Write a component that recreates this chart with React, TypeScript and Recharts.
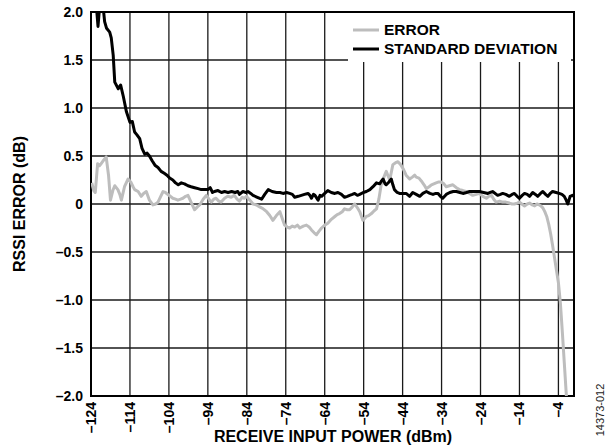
import React from "react";
import { LineChart, Line, XAxis, YAxis, CartesianGrid, ReferenceArea, Legend } from "recharts";

const xTicks = [-124, -114, -104, -94, -84, -74, -64, -54, -44, -34, -24, -14, -4];
const yTicks = [-2, -1.5, -1, -0.5, 0, 0.5, 1, 1.5, 2];

const errX = [
  -123.8, -123.3, -122.9, -122.3, -121.8, -121.4, -120.7, -120.1, -119.5, -119.0,
  -118.4, -117.9, -117.1, -116.6, -116.2, -115.4, -114.5, -113.8, -113.2, -112.8,
  -111.9, -111.1, -110.5, -109.8, -109.0, -108.1, -107.4, -106.8, -106.1, -105.5,
  -104.9, -104.3, -103.6, -103.0, -102.3, -101.7, -101.0, -100.4, -99.7, -99.1,
  -98.2, -97.4, -96.7, -96.1, -95.2, -94.4, -93.7, -93.1, -92.5, -91.9,
  -91.2, -90.6, -89.7, -88.9, -88.0, -87.2, -86.5, -85.9, -85.2, -84.6,
  -84.1, -83.2, -82.4, -81.5, -80.7, -79.8, -78.9, -78.1, -77.3, -76.4,
  -75.5, -74.9, -74.3, -73.6, -73.0, -72.3, -71.7, -71.0, -70.4, -69.5,
  -68.7, -68.0, -67.4, -66.7, -66.1, -65.4, -64.8, -64.0, -63.2, -62.3,
  -61.4, -60.8, -60.2, -59.5, -58.9, -58.2, -57.6, -56.9, -56.3, -55.6,
  -55.0, -54.2, -53.3, -52.7, -52.0, -51.3, -50.7, -50.1, -49.5, -48.8,
  -48.2, -47.8, -47.3, -46.9, -46.5, -45.8, -45.2, -44.5, -43.9, -43.1,
  -42.2, -41.5, -40.9, -40.5, -39.8, -39.2, -38.5, -37.9, -37.2, -36.6,
  -36.0, -35.4, -34.7, -34.1, -33.4, -32.8, -32.0, -31.1, -30.2, -29.4,
  -28.5, -27.7, -26.8, -26.0, -25.1, -24.3, -23.4, -22.5, -21.9, -21.2,
  -20.6, -20.0, -19.1, -18.3, -17.5, -16.6, -15.9, -15.3, -14.6, -14.0,
  -13.4, -12.7, -12.0, -11.4, -10.7, -10.1, -9.5, -8.9, -8.5, -8.0,
  -7.5, -7.0, -6.5, -6.0, -5.5, -5.0, -4.5, -4.0, -3.5, -3.0,
  -2.5, -2.0, -1.8,
];
const errY = [
  0.22, 0.14, 0.12, 0.42, 0.40, 0.42, 0.46, 0.49, 0.30, 0.04,
  0.14, 0.19, 0.15, 0.10, 0.04, 0.18, 0.26, 0.23, 0.18, 0.15,
  0.13, 0.08, 0.11, 0.13, 0.04, -0.01, 0.0, 0.02, 0.08, 0.13,
  0.12, 0.10, 0.08, 0.06, 0.05, 0.04, 0.05, 0.06, 0.08, 0.09,
  0.01, -0.06, -0.03, -0.01, 0.05, 0.09, 0.05, 0.02, 0.05, 0.06,
  0.03, 0.02, 0.06, 0.08, 0.07, 0.09, 0.05, 0.03, 0.07, 0.06,
  0.08, 0.04, 0.0, -0.01, -0.03, -0.05, -0.08, -0.12, -0.17, -0.12,
  -0.08, -0.15, -0.22, -0.24, -0.25, -0.23, -0.24, -0.22, -0.25, -0.23,
  -0.22, -0.24, -0.27, -0.30, -0.32, -0.28, -0.25, -0.22, -0.20, -0.16,
  -0.13, -0.11, -0.10, -0.08, -0.05, -0.06, -0.06, -0.03, 0.0, -0.04,
  -0.08, -0.17, -0.13, -0.12, -0.10, -0.07, -0.05, 0.05, 0.20, 0.28,
  0.34, 0.30, 0.25, 0.33, 0.41, 0.43, 0.44, 0.41, 0.37, 0.30,
  0.26, 0.28, 0.30, 0.28, 0.27, 0.24, 0.20, 0.16, 0.18, 0.20,
  0.21, 0.22, 0.23, 0.23, 0.21, 0.18, 0.19, 0.20, 0.17, 0.15,
  0.14, 0.13, 0.11, 0.09, 0.10, 0.11, 0.08, 0.06, 0.08, 0.09,
  0.05, 0.02, 0.03, 0.02, 0.02, 0.01, 0.0, 0.0, 0.01, 0.02,
  0.0, -0.02, 0.0, 0.01, -0.01, -0.02, 0.0, -0.01, -0.02, -0.04,
  -0.08, -0.13, -0.21, -0.31, -0.43, -0.56, -0.69, -0.82, -1.03, -1.33,
  -1.65, -1.97, -2.1,
];

const sdX = [
  -122.6, -122.2, -121.7, -121.0, -120.5, -120.0, -119.2, -118.8, -118.3, -117.9,
  -117.0, -116.4, -115.7, -114.9, -114.0, -113.4, -112.8, -112.2, -111.5, -110.9,
  -110.2, -109.6, -109.0, -108.3, -107.5, -106.8, -106.0, -105.2, -104.5, -103.8,
  -103.0, -102.3, -101.6, -100.8, -100.0, -99.1, -98.3, -97.4, -96.5, -95.7,
  -94.8, -94.0, -93.4, -92.8, -92.3, -91.4, -90.5, -89.7, -88.8, -87.9,
  -87.0, -86.3, -85.9, -85.0, -84.2, -83.7, -83.0, -82.4, -81.3, -80.2,
  -79.4, -78.5, -77.5, -76.4, -75.5, -74.7, -73.8, -73.0, -72.3, -71.7,
  -70.8, -70.0, -69.2, -68.3, -67.8, -67.4, -66.9, -66.5, -65.7, -65.2,
  -64.8, -64.0, -63.2, -62.3, -61.4, -60.6, -59.7, -58.9, -58.2, -57.6,
  -56.9, -56.3, -55.6, -55.0, -54.1, -53.3, -52.4, -51.6, -50.7, -49.9,
  -49.4, -49.0, -48.5, -48.2, -47.5, -46.9, -46.5, -46.1, -45.4, -44.8,
  -44.0, -43.1, -42.2, -41.4, -40.5, -39.6, -38.8, -37.9, -37.0, -36.2,
  -35.5, -34.9, -34.3, -33.7, -32.8, -31.9, -31.0, -30.2, -29.3, -28.5,
  -27.6, -26.8, -25.5, -24.3, -23.2, -22.1, -21.5, -20.9, -19.6, -18.9,
  -18.3, -17.5, -16.6, -15.9, -15.3, -14.6, -14.0, -13.3, -12.7, -12.0,
  -11.4, -10.6, -9.9, -9.3, -8.6, -8.0, -7.3, -6.7, -6.1, -5.5,
  -4.6, -3.8, -3.1, -2.5, -2.0, -1.6, -1.0, -0.4, 0,
];
const sdY = [
  2.05, 1.85, 2.1, 2.1, 1.90, 1.83, 1.79, 1.73, 1.55, 1.27,
  1.20, 1.24, 1.12, 0.96, 0.85, 0.86, 0.75, 0.72, 0.68, 0.58,
  0.52, 0.53, 0.50, 0.45, 0.40, 0.38, 0.34, 0.32, 0.30, 0.27,
  0.25, 0.22, 0.20, 0.22, 0.21, 0.19, 0.18, 0.17, 0.16, 0.15,
  0.15, 0.15, 0.17, 0.12, 0.13, 0.14, 0.12, 0.13, 0.12, 0.13,
  0.12, 0.13, 0.10, 0.13, 0.12, 0.13, 0.11, 0.09, 0.07, 0.05,
  0.10, 0.15, 0.13, 0.12, 0.12, 0.11, 0.12, 0.11, 0.10, 0.07,
  0.08, 0.09, 0.10, 0.11, 0.09, 0.06, 0.10, 0.09, 0.04, 0.09,
  0.08, 0.11, 0.14, 0.12, 0.11, 0.12, 0.10, 0.07, 0.08, 0.09,
  0.10, 0.11, 0.09, 0.10, 0.12, 0.13, 0.15, 0.18, 0.22, 0.21,
  0.24, 0.26, 0.21, 0.20, 0.23, 0.26, 0.20, 0.15, 0.12, 0.11,
  0.11, 0.11, 0.08, 0.12, 0.10, 0.08, 0.11, 0.13, 0.11, 0.10,
  0.11, 0.11, 0.08, 0.06, 0.10, 0.12, 0.13, 0.13, 0.12, 0.11,
  0.12, 0.13, 0.13, 0.13, 0.12, 0.11, 0.12, 0.13, 0.09, 0.10,
  0.11, 0.10, 0.08, 0.10, 0.11, 0.08, 0.06, 0.09, 0.11, 0.10,
  0.08, 0.12, 0.10, 0.08, 0.11, 0.13, 0.10, 0.08, 0.11, 0.13,
  0.12, 0.11, 0.10, 0.08, 0.04, 0.0, 0.08, 0.09, 0.08,
];

const errData = errX.map((x, i) => ({ x, v: errY[i] }));
const sdData = sdX.map((x, i) => ({ x, v: sdY[i] }));

const FONT = '"Liberation Sans", Arial, Helvetica, sans-serif';
const GRAY = "#bdbdbd";

const fmtX = (v: number) => (v < 0 ? "\u2013" + Math.abs(v) : String(v));
const fmtY = (v: number) => (v === 0 ? "0" : (v < 0 ? "\u2013" : "") + Math.abs(v).toFixed(1));

const XTick = (props: any) => {
  const { x, y, payload } = props;
  const ty = y - 2;
  return (
    <text
      x={x}
      y={ty}
      transform={`rotate(-90 ${x} ${ty})`}
      textAnchor="end"
      dominantBaseline="central"
      fontFamily={FONT}
      fontWeight="bold"
      fontSize={14}
      fill="#000"
    >
      {fmtX(payload.value)}
    </text>
  );
};

const LegendBox = () => (
  <svg width={223} height={49} style={{ display: "block" }}>
    <line x1={5} x2={31} y1={17} y2={17} stroke={GRAY} strokeWidth={3} />
    <text x={36} y={22} fontFamily={FONT} fontWeight="bold" fontSize={15.5} fill="#000">ERROR</text>
    <line x1={5} x2={31} y1={36} y2={36} stroke="#000" strokeWidth={3} />
    <text x={36} y={41} fontFamily={FONT} fontWeight="bold" fontSize={15.5} fill="#000">STANDARD DEVIATION</text>
  </svg>
);

export default function App() {
  return (
    <div style={{ position: "absolute", left: 0, top: 0, width: 613, height: 448, background: "#fff" }}>
      <LineChart width={613} height={448} margin={{ top: 12, right: 39, bottom: 0, left: 31 }}>
        <CartesianGrid stroke="#1a1a1a" strokeWidth={1.3} />
        <XAxis
          type="number"
          dataKey="x"
          domain={[-124, 0]}
          ticks={xTicks}
          interval={0}
          allowDataOverflow
          tickLine={false}
          axisLine={false}
          height={52}
          tick={<XTick />}
        />
        <YAxis
          type="number"
          domain={[-2, 2]}
          ticks={yTicks}
          interval={0}
          allowDataOverflow
          tickLine={false}
          axisLine={false}
          width={60}
          tickFormatter={fmtY}
          tick={{ fontFamily: FONT, fontWeight: "bold", fontSize: 14, fill: "#000" }}
        />
        <Line
          data={errData}
          dataKey="v"
          type="linear"
          stroke={GRAY}
          strokeWidth={3}
          dot={false}
          isAnimationActive={false}
          strokeLinejoin="round"
        />
        <Line
          data={sdData}
          dataKey="v"
          type="linear"
          stroke="#000"
          strokeWidth={3}
          dot={false}
          isAnimationActive={false}
          strokeLinejoin="round"
        />
        <ReferenceArea x1={-124} x2={0} y1={-2} y2={2} fill="none" stroke="#000" strokeWidth={2} ifOverflow="visible" />
        <Legend
          layout="horizontal"
          verticalAlign="middle"
          align="center"
          content={() => <LegendBox />}
          wrapperStyle={{ position: "absolute", left: 348, top: 13, width: 223, height: 49, background: "#fff" }}
        />
      </LineChart>
      <div
        style={{
          position: "absolute",
          left: 20,
          top: 204,
          transform: "translate(-50%, -50%) rotate(-90deg)",
          whiteSpace: "nowrap",
          fontFamily: FONT,
          fontWeight: "bold",
          fontSize: 16,
          color: "#000",
        }}
      >
        RSSI ERROR (dB)
      </div>
      <div
        style={{
          position: "absolute",
          left: 333,
          top: 437,
          transform: "translate(-50%, -50%)",
          whiteSpace: "nowrap",
          fontFamily: FONT,
          fontWeight: "bold",
          fontSize: 16,
          color: "#000",
        }}
      >
        RECEIVE INPUT POWER (dBm)
      </div>
      <div
        style={{
          position: "absolute",
          left: 600,
          top: 410,
          transform: "translate(-50%, -50%) rotate(-90deg)",
          whiteSpace: "nowrap",
          fontFamily: FONT,
          fontSize: 11,
          color: "#222",
        }}
      >
        14373-012
      </div>
    </div>
  );
}
